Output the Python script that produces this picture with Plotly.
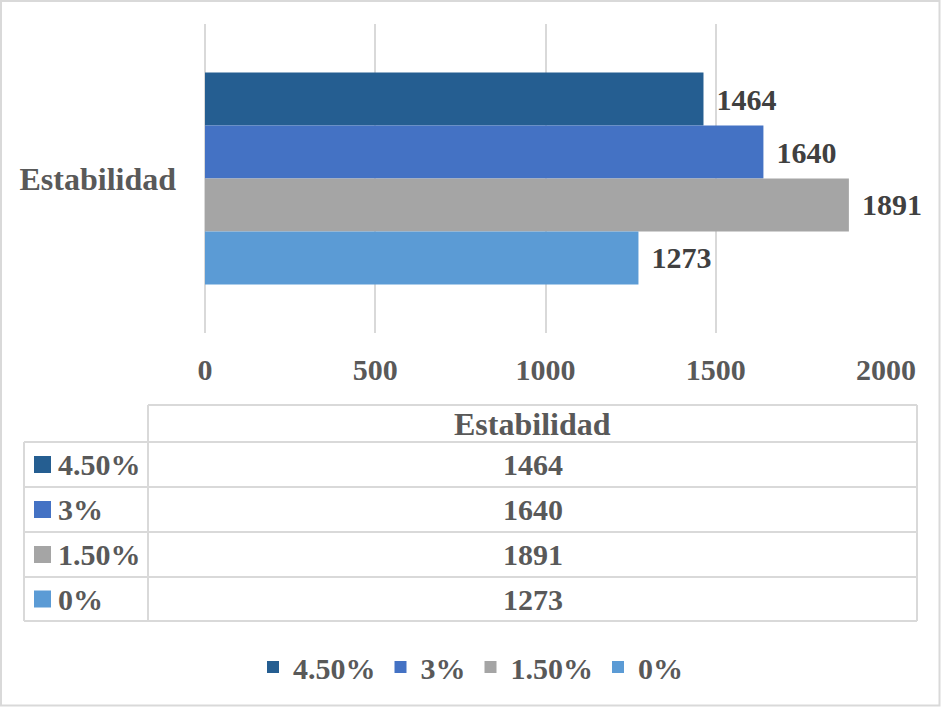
import plotly.graph_objects as go

categories = ["Estabilidad"]
series_names = ["4.50%", "3%", "1.50%", "0%"]
series_values = [1464, 1640, 1891, 1273]
series_colors = ["#255E91", "#4472C4", "#A5A5A5", "#5B9BD5"]
x_ticks = [0, 500, 1000, 1500, 2000]

W, H = 941, 707
L, R, T, B = 205, 55, 24, 374
PW = W - L - R
PH = H - T - B

def px_x(px):
    return (px - L) / PW

def px_y(py):
    return (H - B - py) / PH

FONT = "Liberation Serif"
TXT = "#595959"
GRID = "#D9D9D9"
NUM = 30
WORD = 32

def f(size, color=TXT):
    return dict(family=FONT, size=size, color=color, weight="bold")

fig = go.Figure()
for name, val, col in zip(series_names, series_values, series_colors):
    fig.add_trace(go.Bar(
        y=categories, x=[val], name=name, orientation="h",
        marker=dict(color=col, line=dict(width=0)),
        text=[str(val)], textposition="outside",
        textfont=f(NUM, "#404040"),
        cliponaxis=False,
        texttemplate=" \u200a%{text}",
    ))

shapes = []
annotations = []

# table geometry (pixels)
col0, col1, col2 = 24, 148, 917
rows = [405, 442, 487, 532, 577, 621]
line = dict(color=GRID, width=2)
shapes.append(dict(type="line", xref="paper", yref="paper",
                   x0=px_x(col1), x1=px_x(col2), y0=px_y(rows[0]), y1=px_y(rows[0]), line=line))
for r in rows[1:]:
    shapes.append(dict(type="line", xref="paper", yref="paper",
                       x0=px_x(col0), x1=px_x(col2), y0=px_y(r), y1=px_y(r), line=line))
shapes.append(dict(type="line", xref="paper", yref="paper",
                   x0=px_x(col0), x1=px_x(col0), y0=px_y(rows[1]), y1=px_y(rows[-1]), line=line))
for c in (col1, col2):
    shapes.append(dict(type="line", xref="paper", yref="paper",
                       x0=px_x(c), x1=px_x(c), y0=px_y(rows[0]), y1=px_y(rows[-1]), line=line))

annotations.append(dict(xref="paper", yref="paper", x=px_x((col1 + col2) / 2),
                        y=px_y((rows[0] + rows[1]) / 2), text=categories[0],
                        showarrow=False, font=f(WORD),
                        xanchor="center", yanchor="middle"))
for i, (name, val, col) in enumerate(zip(series_names, series_values, series_colors)):
    yc = (rows[i + 1] + rows[i + 2]) / 2
    shapes.append(dict(type="rect", xref="paper", yref="paper",
                       x0=px_x(34), x1=px_x(51), y0=px_y(yc - 8.5), y1=px_y(yc + 8.5),
                       fillcolor=col, line=dict(width=0)))
    annotations.append(dict(xref="paper", yref="paper", x=px_x(56), y=px_y(yc),
                            text=name, showarrow=False, font=f(NUM),
                            xanchor="left", yanchor="middle"))
    annotations.append(dict(xref="paper", yref="paper", x=px_x((col1 + col2) / 2), y=px_y(yc),
                            text=str(val), showarrow=False, font=f(NUM),
                            xanchor="center", yanchor="middle"))

# outer border
shapes.append(dict(type="rect", xref="paper", yref="paper",
                   x0=px_x(1), x1=px_x(W - 1.5), y0=px_y(1), y1=px_y(H - 1.5),
                   line=dict(color=GRID, width=2), fillcolor="rgba(0,0,0,0)"))

fig.update_layout(
    width=W, height=H,
    margin=dict(l=L, r=R, t=T, b=B, pad=0),
    paper_bgcolor="white", plot_bgcolor="white",
    barmode="group", bargap=0.314, bargroupgap=0,
    font=f(NUM),
    showlegend=True,
    legend=dict(orientation="h", x=px_x(W / 2), xanchor="center",
                y=px_y(667), yanchor="middle",
                font=f(NUM), itemwidth=30, traceorder="normal"),
    shapes=shapes, annotations=annotations,
    xaxis=dict(range=[0, 2000], tickvals=x_ticks,
               showgrid=True, gridcolor=GRID, gridwidth=2,
               zeroline=True, zerolinecolor=GRID, zerolinewidth=2,
               showline=False, ticks="", ticklabelstandoff=16,
               tickfont=f(NUM), fixedrange=True),
    yaxis=dict(categoryorder="array", categoryarray=categories, autorange="reversed",
               showgrid=False, showline=False, ticks="", ticklabelstandoff=28,
               tickfont=f(WORD), fixedrange=True),
)

fig.write_html("out.html", config={"displayModeBar": False},
               post_script="document.body.style.margin='0';document.body.style.overflow='hidden';")
